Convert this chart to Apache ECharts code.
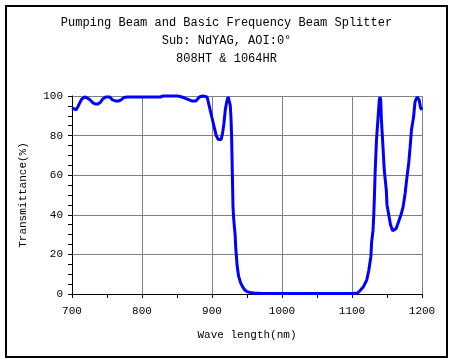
<!DOCTYPE html>
<html>
<head>
<meta charset="utf-8">
<script src="https://cdn.jsdelivr.net/npm/echarts@6/dist/echarts.min.js"></script>
<style>html,body{margin:0;padding:0;background:#fff}#c{width:453px;height:362px}</style>
</head>
<body>
<div id="c"></div>
<script>
const titleLines = ["Pumping Beam and Basic Frequency Beam Splitter", "Sub: NdYAG, AOI:0°", "808HT & 1064HR"];
const xAxisName = "Wave length(nm)";
const yAxisName = "Transmittance(%)";
const wavelength = [700,703,706,709,711,714,718,722,726,730,733,737,741,744,748,754,758,762,767,770,774,779,800,826,830,851,857,864,871,877,882,887,893,896,898,900,902,904,906,909,913,915,917,919,921,923,924,926,927,928,929,930,931,933,934,936,938,941,944,947,950,954,960,970,1100,1108,1111,1116,1121,1124,1127,1128,1130,1131,1132,1133,1135,1137,1139,1140,1141,1142,1144,1146,1149,1150,1153,1155,1158,1160,1163,1166,1170,1173,1176,1178,1181,1183,1185,1188,1190,1193,1196,1198,1200];
const transmittance = [94,93.5,93,95,96.5,98.5,99.5,99,98,96.5,96,96,97,98.5,99.5,99.5,98,97.5,97.5,98,99.2,99.5,99.5,99.5,100,100,99.5,98.5,97.5,97.5,99.5,100,99.5,95,92,89,86,83,80,78,78,81,86,93,97,99.5,99.5,95.5,90,80,62,44,38,30,23,14,9,5.5,3.5,2,1.2,0.8,0.5,0.3,0.3,0.5,1.5,3.5,7,12,19,26,32,39,49,61,78,88,98,99.5,98,88,76,63,52.5,45,39,35,32,31.5,33,36,40,44,51,57.5,66,74,83,89.5,97,99.5,98,94,93];
const xTicks = {min: 700, max: 1200, interval: 100};
const yTicks = {min: 0, max: 100, interval: 20};

const chart = echarts.init(document.getElementById('c'), null, {renderer: 'canvas'});
const font = "'Liberation Mono', 'DejaVu Sans Mono', monospace";
chart.setOption({
  backgroundColor: '#ffffff',
  animation: false,
  title: {
    text: titleLines.join('\n'),
    left: 'center',
    top: 14,
    padding: 0,
    textStyle: {fontFamily: font, fontSize: 12, fontWeight: 'normal', color: '#000', lineHeight: 18}
  },
  graphic: [{
    type: 'rect', shape: {x: 6, y: 6, width: 441, height: 351},
    style: {fill: 'none', stroke: '#000', lineWidth: 2}, z: 0
  }],
  grid: {left: 72, right: 31, top: 96, bottom: 68, containLabel: false},
  xAxis: {
    type: 'value', min: xTicks.min, max: xTicks.max, interval: xTicks.interval,
    name: xAxisName, nameLocation: 'middle', nameGap: 36,
    nameTextStyle: {fontFamily: font, fontSize: 11, color: '#000'},
    axisLine: {show: true, onZero: false, lineStyle: {color: '#000', width: 1}},
    axisTick: {show: true, length: 4, lineStyle: {color: '#000'}},
    minorTick: {show: true, splitNumber: 2, length: 4, lineStyle: {color: '#000'}},
    axisLabel: {fontFamily: font, fontSize: 11, color: '#000', margin: 12, formatter: v => String(v)},
    splitLine: {show: true, lineStyle: {color: '#808080', width: 1}}
  },
  yAxis: {
    type: 'value', min: yTicks.min, max: yTicks.max, interval: yTicks.interval,
    name: yAxisName, nameLocation: 'middle', nameGap: 43, nameRotate: 90,
    nameTextStyle: {fontFamily: font, fontSize: 11, color: '#000'},
    axisLine: {show: true, onZero: false, lineStyle: {color: '#000', width: 1}},
    axisTick: {show: true, length: 4, lineStyle: {color: '#000'}},
    minorTick: {show: true, splitNumber: 4, length: 4, lineStyle: {color: '#000'}},
    axisLabel: {fontFamily: font, fontSize: 11, color: '#000', margin: 9, formatter: v => String(v)},
    splitLine: {show: true, lineStyle: {color: '#808080', width: 1}}
  },
  series: [{
    type: 'line',
    data: wavelength.map((w, i) => [w, transmittance[i]]),
    showSymbol: false,
    clip: false,
    lineStyle: {color: '#0000ff', width: 3, join: 'bevel'},
    itemStyle: {color: '#0000ff'}
  }]
});
</script>
</body>
</html>
